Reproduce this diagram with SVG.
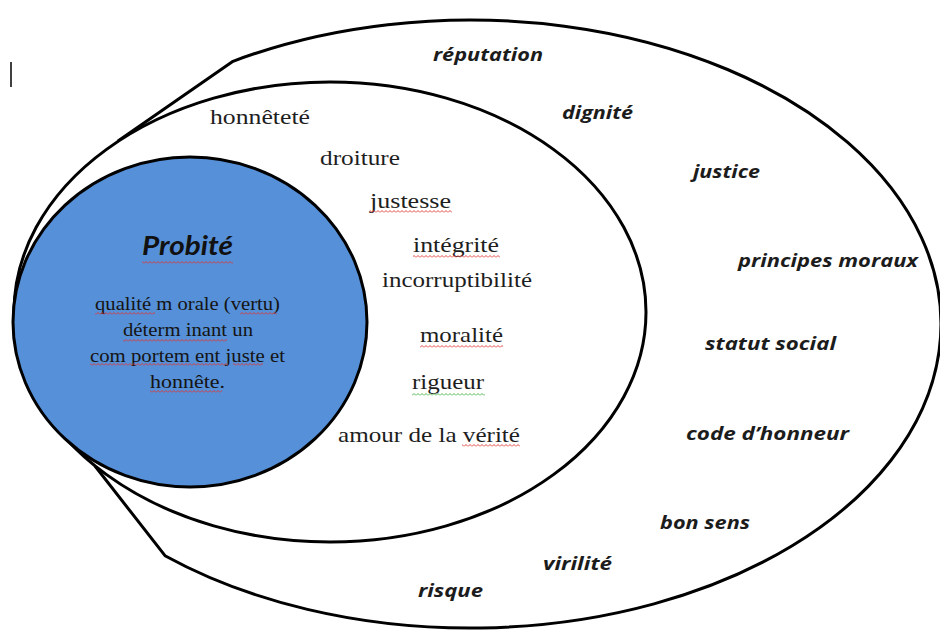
<svg xmlns="http://www.w3.org/2000/svg" width="940" height="631" viewBox="0 0 940 631">
<defs>
<pattern id="sqR" width="4" height="3" patternUnits="userSpaceOnUse"><path d="M0,2.5 L2,0.5 L4,2.5" fill="none" stroke="#e0352e" stroke-width="0.9"/></pattern>
<pattern id="sqG" width="4" height="3" patternUnits="userSpaceOnUse"><path d="M0,2.5 L2,0.5 L4,2.5" fill="none" stroke="#3fb23f" stroke-width="0.9"/></pattern>
</defs>
<style>
.shape{fill:#fff;stroke:#000;stroke-width:3;stroke-linejoin:round}
.blue{fill:#5690d8;stroke:#000;stroke-width:3}
.outer{font-family:"Open Sans","DejaVu Sans",sans-serif;font-style:italic;font-weight:700;font-size:18px;fill:#1c1c1c}
.inner{font-family:"Liberation Serif","DejaVu Serif",serif;font-size:21px;fill:#1e1e1e}
.body{font-family:"Liberation Serif","DejaVu Serif",serif;font-size:18px;fill:#141414}
.title{font-family:Lato,"Open Sans",sans-serif;font-style:italic;font-weight:700;font-size:27px;fill:#111}
</style>
<rect width="940" height="631" fill="#fff"/>
<line x1="11" y1="62" x2="11" y2="87" stroke="#000" stroke-width="1.5"/>
<g id="outer-shape">
<path class="shape" d="M118,141 L233,61.3 A471,304 0 1,1 165,555.7 L95,466"/>
</g>
<g id="inner-ellipse">
<ellipse class="shape" cx="330" cy="312" rx="316" ry="230"/>
</g>
<g id="probite">
<ellipse class="blue" cx="190" cy="322" rx="177" ry="165"/>
<text class="title" x="142" y="255" textLength="91" lengthAdjust="spacingAndGlyphs">Probité</text>
<text class="body" x="95" y="310" textLength="185" lengthAdjust="spacingAndGlyphs">qualité m orale (vertu)</text>
<text class="body" x="123" y="336" textLength="130" lengthAdjust="spacingAndGlyphs">déterm inant un</text>
<text class="body" x="90" y="362" textLength="195" lengthAdjust="spacingAndGlyphs">com portem ent juste et</text>
<text class="body" x="150" y="388" textLength="75" lengthAdjust="spacingAndGlyphs">honnête.</text>
<rect x="142" y="261" width="91" height="3" fill="url(#sqR)"/>
<rect x="95" y="312" width="60" height="3" fill="url(#sqR)"/>
<rect x="240" y="312" width="37" height="3" fill="url(#sqR)"/>
<rect x="123" y="339" width="104" height="3" fill="url(#sqR)"/>
<rect x="90" y="363" width="138" height="3" fill="url(#sqR)"/>
<rect x="233" y="363" width="30" height="3" fill="url(#sqR)"/>
<rect x="150" y="390" width="72" height="3" fill="url(#sqR)"/>
</g>
<g id="inner-terms">
<g id="t-honnetete"><text class="inner" x="210" y="124" textLength="100" lengthAdjust="spacingAndGlyphs">honnêteté</text></g>
<g id="t-droiture"><text class="inner" x="320" y="165" textLength="80" lengthAdjust="spacingAndGlyphs">droiture</text></g>
<g id="t-justesse"><text class="inner" x="370" y="208" textLength="81" lengthAdjust="spacingAndGlyphs">justesse</text><rect x="370" y="210" width="82" height="3" fill="url(#sqR)"/></g>
<g id="t-integrite"><text class="inner" x="413" y="252" textLength="86" lengthAdjust="spacingAndGlyphs">intégrité</text><rect x="413" y="255" width="87" height="3" fill="url(#sqR)"/></g>
<g id="t-incorruptibilite"><text class="inner" x="382" y="287" textLength="150" lengthAdjust="spacingAndGlyphs">incorruptibilité</text></g>
<g id="t-moralite"><text class="inner" x="420" y="342" textLength="83" lengthAdjust="spacingAndGlyphs">moralité</text><rect x="420" y="345" width="83" height="3" fill="url(#sqR)"/></g>
<g id="t-rigueur"><text class="inner" x="412" y="389" textLength="72" lengthAdjust="spacingAndGlyphs">rigueur</text><rect x="412" y="393" width="73" height="3" fill="url(#sqG)"/></g>
<g id="t-amour"><text class="inner" x="338" y="442" textLength="182" lengthAdjust="spacingAndGlyphs">amour de la vérité</text><rect x="462" y="444" width="58" height="3" fill="url(#sqR)"/></g>
</g>
<g id="outer-terms">
<g id="t-reputation"><text class="outer" x="433" y="61" textLength="110" lengthAdjust="spacingAndGlyphs">réputation</text></g>
<g id="t-dignite"><text class="outer" x="562" y="119" textLength="71" lengthAdjust="spacingAndGlyphs">dignité</text></g>
<g id="t-justice"><text class="outer" x="693" y="178" textLength="67" lengthAdjust="spacingAndGlyphs">justice</text></g>
<g id="t-principes"><text class="outer" x="738" y="267" textLength="180" lengthAdjust="spacingAndGlyphs">principes moraux</text></g>
<g id="t-statut"><text class="outer" x="705" y="350" textLength="131" lengthAdjust="spacingAndGlyphs">statut social</text></g>
<g id="t-code"><text class="outer" x="686" y="440" textLength="163" lengthAdjust="spacingAndGlyphs">code d’honneur</text></g>
<g id="t-bonsens"><text class="outer" x="660" y="529" textLength="90" lengthAdjust="spacingAndGlyphs">bon sens</text></g>
<g id="t-virilite"><text class="outer" x="543" y="570" textLength="69" lengthAdjust="spacingAndGlyphs">virilité</text></g>
<g id="t-risque"><text class="outer" x="418" y="597" textLength="65" lengthAdjust="spacingAndGlyphs">risque</text></g>
</g>
</svg>
